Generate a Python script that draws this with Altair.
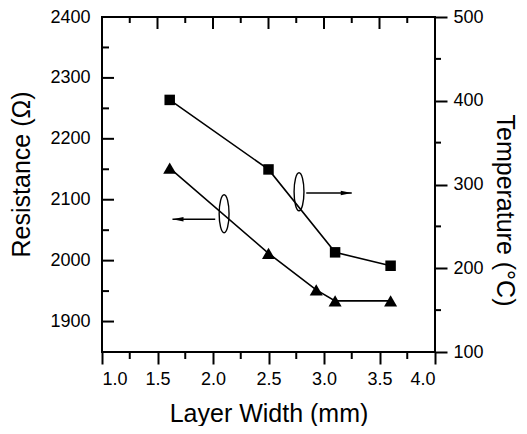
import altair as alt
import pandas as pd

# ---- data ----
width_res = [1.61, 2.5, 2.93, 3.1, 3.6]
resistance = [2152, 2012, 1952, 1934, 1934]
width_temp = [1.61, 2.5, 3.1, 3.6]
temperature = [401, 318, 219, 203]

# axis tick values
x_major = [1.0, 1.5, 2.0, 2.5, 3.0, 3.5, 4.0]
x_minor = [1.25, 1.75, 2.25, 2.75, 3.25, 3.75]
res_major = [1900, 2000, 2100, 2200, 2300, 2400]
res_minor = [1950, 2050, 2150, 2250, 2350]
temp_major = [100, 200, 300, 400, 500]
temp_minor = [150, 250, 350, 450]

# annotation (ellipse + arrow) positions in data units
ellipse_x = [2.10, 2.775]
ellipse_res = [2077, 2113]
arrow_from = [2.02, 2.84]
arrow_to = [1.635, 3.25]
arrow_res = [2068, 2111]
arrow_dir = ["left", "right"]

FONT = "Liberation Sans"
X = alt.Scale(domain=[1, 4], nice=False, zero=False)
YR = alt.Scale(domain=[1850, 2400], nice=False, zero=False)
YT = alt.Scale(domain=[100, 500], nice=False, zero=False)

ELLIPSE = "M0,-1 A0.26,1 0 1,1 0,1 A0.26,1 0 1,1 0,-1 Z"
HEAD_LEFT = "M0,0 L2,-0.4 L2,0.4 Z"
HEAD_RIGHT = "M0,0 L-2,-0.4 L-2,0.4 Z"

res_df = pd.DataFrame({"w": width_res, "r": resistance})
temp_df = pd.DataFrame({"w": width_temp, "t": temperature})

res_line = alt.Chart(res_df).mark_line(color="black", strokeWidth=1.6).encode(
    x=alt.X("w:Q", scale=X, axis=alt.Axis(
        orient="bottom", values=x_major, format=".1f", title="Layer Width (mm)",
        tickSize=12, tickWidth=2, tickColor="black", domain=False, grid=False,
        labelPadding=6, titleY=69, titleBaseline="alphabetic")),
    y=alt.Y("r:Q", scale=YR, axis=alt.Axis(
        orient="left", values=res_major, format="d", title="Resistance (Ω)",
        ticks=False, tickSize=0, domain=False, grid=False, labelPadding=12,
        titleX=-81, titleY=157, titleBaseline="middle", titleAngle=270)),
)
res_pts = alt.Chart(res_df).mark_point(
    shape="triangle-up", size=170, filled=True, color="black", opacity=1
).encode(
    x=alt.X("w:Q", scale=X, axis=None),
    y=alt.Y("r:Q", scale=YR, axis=None),
)

temp_line = alt.Chart(temp_df).mark_line(color="black", strokeWidth=1.6).encode(
    x=alt.X("w:Q", scale=X, axis=None),
    y=alt.Y("t:Q", scale=YT, axis=alt.Axis(
        orient="right", values=temp_major, format="d", title="Temperature (°C)",
        tickSize=12, tickWidth=2, tickColor="black", domain=False, grid=False,
        labelPadding=6, titleX=69, titleY=193, titleBaseline="middle",
        titleAngle=90)),
)
temp_pts = alt.Chart(temp_df).mark_point(
    shape="square", size=110, filled=True, color="black", opacity=1
).encode(
    x=alt.X("w:Q", scale=X, axis=None),
    y=alt.Y("t:Q", scale=YT, axis=None),
)

ell_df = pd.DataFrame({"x": ellipse_x, "r": ellipse_res})
ellipses = alt.Chart(ell_df).mark_point(
    shape=ELLIPSE, size=1444, filled=False, color="black", strokeWidth=1.4, opacity=1
).encode(
    x=alt.X("x:Q", scale=X, axis=None),
    y=alt.Y("r:Q", scale=YR, axis=None),
)

arr_df = pd.DataFrame({"x0": arrow_from, "x1": arrow_to, "r": arrow_res, "dir": arrow_dir})
arrows = alt.Chart(arr_df).mark_rule(color="black", strokeWidth=1.4).encode(
    x=alt.X("x0:Q", scale=X, axis=None),
    x2="x1:Q",
    y=alt.Y("r:Q", scale=YR, axis=None),
)
heads = alt.Chart(arr_df).mark_point(
    size=121, filled=True, color="black", opacity=1, strokeWidth=0.5
).encode(
    x=alt.X("x1:Q", scale=X, axis=None),
    y=alt.Y("r:Q", scale=YR, axis=None),
    shape=alt.Shape("dir:N", scale=alt.Scale(domain=["left", "right"],
                                              range=[HEAD_LEFT, HEAD_RIGHT]),
                    legend=None),
)


def vticks(vals, scale, x0, x1):
    return alt.Chart(pd.DataFrame({"v": vals})).mark_rule(
        color="black", strokeWidth=2).encode(
        y=alt.Y("v:Q", scale=scale, axis=None),
        x=alt.value(x0), x2=alt.value(x1))


def hticks(vals, y0, y1):
    return alt.Chart(pd.DataFrame({"v": vals})).mark_rule(
        color="black", strokeWidth=2).encode(
        x=alt.X("v:Q", scale=X, axis=None),
        y=alt.value(y0), y2=alt.value(y1))


W, H = 333, 335
tick_layers = [
    vticks(res_major, YR, 0, 12),
    vticks(res_minor, YR, 0, 7),
    vticks(temp_minor, YT, W, W + 6),
    hticks(x_major, 0, 12),
    hticks(x_minor, 0, 6),
    hticks(x_minor, H, H + 7),
]

chart = alt.layer(
    res_line, temp_line, res_pts, temp_pts, ellipses, arrows, heads, *tick_layers
).resolve_scale(y="independent").resolve_axis(x="independent").properties(
    width=W, height=H,
    autosize=alt.AutoSizeParams(type="none"),
    padding={"left": 94, "top": 9, "right": 84, "bottom": 74},
).configure_view(
    stroke="black", strokeWidth=2
).configure_axis(
    labelFont=FONT, titleFont=FONT, labelFontSize=18, titleFontSize=25,
    titleFontWeight="normal", labelColor="black", titleColor="black",
)

chart.save("out.html", embed_options={"renderer": "svg", "actions": False})
